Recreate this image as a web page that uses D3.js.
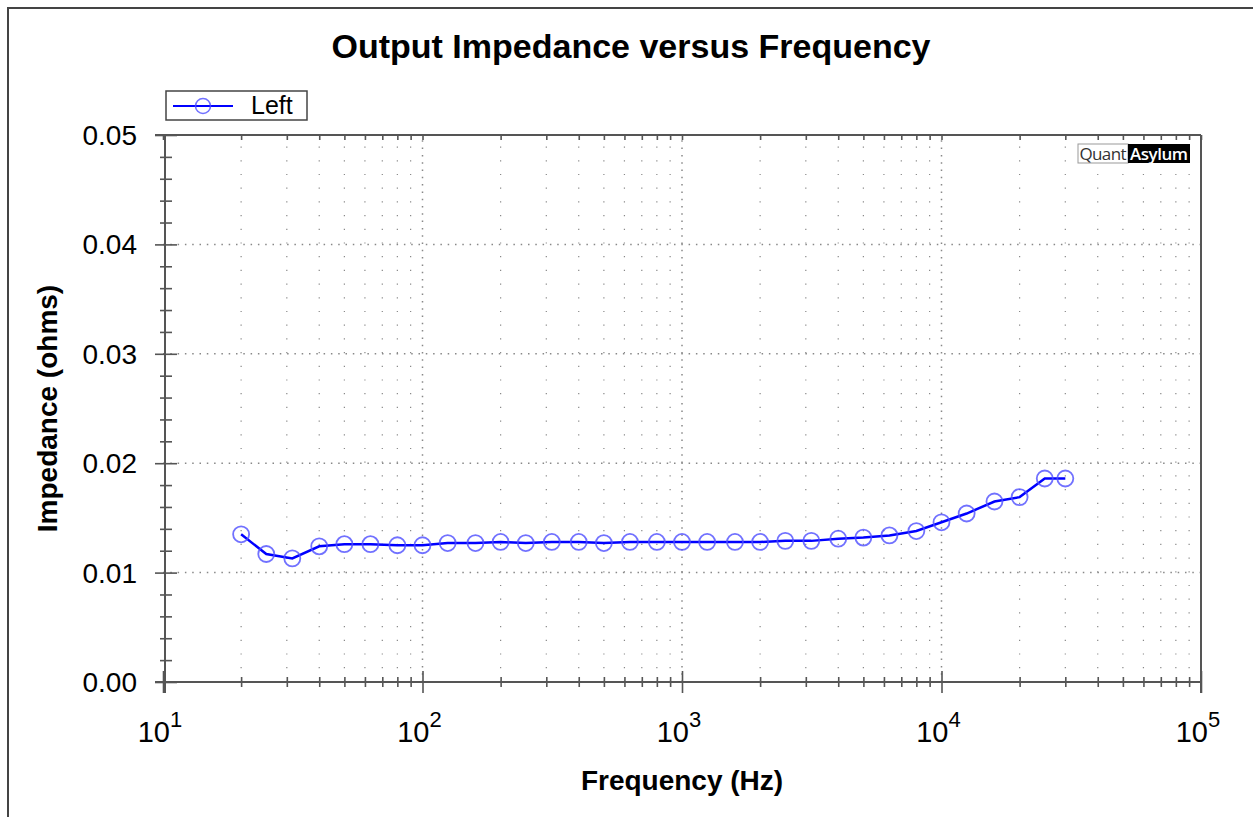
<!DOCTYPE html>
<html>
<head>
<meta charset="utf-8">
<script src="https://cdn.jsdelivr.net/npm/d3@7"></script>
<style>
  body { margin: 0; background: #fff; }
  svg { display: block; font-family: "Liberation Sans", Arial, sans-serif; }
</style>
</head>
<body>
<svg id="chart" width="1253" height="817"></svg>
<script>
// data
const freqs = [20, 25, 31.5, 40, 50, 63, 80, 100, 125, 160, 200, 250, 315, 400, 500, 630, 800,
  1000, 1250, 1600, 2000, 2500, 3150, 4000, 5000, 6300, 8000, 10000, 12500, 16000, 20000, 25000, 30000];
const leftOhms = [0.0135, 0.0117, 0.0113, 0.0124, 0.0126, 0.0126, 0.0125, 0.0125, 0.0127, 0.0127, 0.0128, 0.0127, 0.0128, 0.0128, 0.0127, 0.0128, 0.0128,
  0.0128, 0.0128, 0.0128, 0.0128, 0.0129, 0.0129, 0.0131, 0.0132, 0.0134, 0.0138, 0.0146, 0.0154, 0.0165, 0.0169, 0.0186, 0.0186];
const yTicks = [0, 0.01, 0.02, 0.03, 0.04, 0.05];
const xDecades = [10, 100, 1000, 10000, 100000];
const seriesName = "Left";

const svg = d3.select("#chart");
const margin = { left: 163, right: 1201, top: 135, bottom: 682 };

const x = d3.scaleLog().domain([10, 100000]).range([margin.left, margin.right]);
const y = d3.scaleLinear().domain([0, 0.05]).range([margin.bottom, margin.top]);

// minor ticks
const xMinor = [];
xDecades.slice(0, -1).forEach(d => { for (let k = 2; k <= 9; k++) xMinor.push(d * k); });
const yMinor = d3.range(0, 51).map(i => i / 1000).filter((v, i) => i % 10 !== 0 && i % 2 === 0);

// outer frame
svg.append("path").attr("d", "M8,817 L8,8 L1253,8")
  .attr("fill", "none").attr("stroke", "#444").attr("stroke-width", 2);

// title
svg.append("text").attr("x", 631).attr("y", 58).attr("text-anchor", "middle")
  .style("font-size", "34px").style("font-weight", "bold").text("Output Impedance versus Frequency");

// grid
const grid = svg.append("g").attr("stroke", "#888").attr("fill", "none");
grid.selectAll(".vminor").data(xMinor).join("line").attr("class", "vminor")
  .attr("x1", d => x(d)).attr("x2", d => x(d)).attr("y1", margin.bottom).attr("y2", margin.top)
  .attr("stroke-width", 1.2).attr("stroke-dasharray", "1.2,12.5");
grid.selectAll(".vmajor").data(xDecades.slice(1, -1)).join("line").attr("class", "vmajor")
  .attr("x1", d => x(d)).attr("x2", d => x(d)).attr("y1", margin.bottom).attr("y2", margin.top)
  .attr("stroke-width", 1.5).attr("stroke-dasharray", "1.5,5.8");
grid.selectAll(".hmajor").data(yTicks.slice(1, -1)).join("line").attr("class", "hmajor")
  .attr("x1", margin.left).attr("x2", margin.right).attr("y1", d => y(d)).attr("y2", d => y(d))
  .attr("stroke-width", 1.5).attr("stroke-dasharray", "1.5,5.8");

// axes
const axisColor = "#555";
const bottomAxis = svg.append("g").attr("transform", `translate(0,${margin.bottom})`)
  .call(d3.axisBottom(x).tickValues(xDecades.concat(xMinor)).tickSize(11).tickFormat(""));
bottomAxis.selectAll(".tick line").attr("y1", d => xDecades.includes(d) ? -11 : -5)
  .attr("y2", d => xDecades.includes(d) ? 11 : 5);

const topAxis = svg.append("g").attr("transform", `translate(0,${margin.top})`)
  .call(d3.axisBottom(x).tickValues(xDecades.concat(xMinor)).tickSize(5).tickFormat(""));

const leftAxis = svg.append("g").attr("transform", `translate(${margin.left + 2},0)`)
  .call(d3.axisLeft(y).tickValues(yTicks.concat(yMinor)).tickSize(10).tickFormat(""));
leftAxis.selectAll(".tick line").attr("x1", d => yTicks.includes(d) ? 12 : 7)
  .attr("x2", d => yTicks.includes(d) ? -10 : -5);

[bottomAxis, topAxis, leftAxis].forEach(a => {
  a.select(".domain").remove();
  a.selectAll(".tick line").attr("stroke", axisColor).attr("stroke-width", 1.6);
});

// frame of plot
svg.append("line").attr("x1", 155).attr("x2", margin.right).attr("y1", margin.top).attr("y2", margin.top)
  .attr("stroke", axisColor).attr("stroke-width", 2);
svg.append("line").attr("x1", 155).attr("x2", margin.right).attr("y1", margin.bottom).attr("y2", margin.bottom)
  .attr("stroke", axisColor).attr("stroke-width", 2);
svg.append("line").attr("x1", margin.left + 2).attr("x2", margin.left + 2).attr("y1", margin.top).attr("y2", margin.bottom + 11)
  .attr("stroke", axisColor).attr("stroke-width", 2);
svg.append("line").attr("x1", margin.right).attr("x2", margin.right).attr("y1", margin.top).attr("y2", margin.bottom + 11)
  .attr("stroke", axisColor).attr("stroke-width", 2);

// tick labels
svg.selectAll(".ylab").data(yTicks).join("text").attr("class", "ylab")
  .attr("x", 137).attr("y", d => y(d) + 10).attr("text-anchor", "end")
  .style("font-size", "28px").text(d => d.toFixed(2));

const xl = svg.selectAll(".xlab").data(xDecades).join("text").attr("class", "xlab")
  .attr("x", d => x(d) - 3).attr("y", 742).attr("text-anchor", "middle").style("font-size", "29px");
xl.append("tspan").text("10");
xl.append("tspan").attr("dy", -15).style("font-size", "22px").text(d => Math.round(Math.log10(d)));

// axis titles
svg.append("text").attr("x", 682).attr("y", 790).attr("text-anchor", "middle")
  .style("font-size", "28px").style("font-weight", "bold").text("Frequency (Hz)");
svg.append("text").attr("transform", `translate(57,${(margin.top + margin.bottom) / 2}) rotate(-90)`)
  .attr("text-anchor", "middle").style("font-size", "28px").style("font-weight", "bold").text("Impedance (ohms)");

// series
const line = d3.line().x((d, i) => x(freqs[i])).y(d => y(d));
svg.append("path").datum(leftOhms).attr("d", line)
  .attr("fill", "none").attr("stroke", "#0000ff").attr("stroke-width", 2.5);
svg.selectAll(".pt").data(leftOhms).join("circle").attr("class", "pt")
  .attr("cx", (d, i) => x(freqs[i])).attr("cy", d => y(d)).attr("r", 8)
  .attr("fill", "none").attr("stroke", "#4d4dff").attr("stroke-opacity", 0.8).attr("stroke-width", 1.8);

// legend
const lg = svg.append("g");
lg.append("rect").attr("x", 166).attr("y", 91).attr("width", 141).attr("height", 29)
  .attr("fill", "#fff").attr("stroke", "#444").attr("stroke-width", 1.5);
lg.append("line").attr("x1", 173).attr("x2", 233).attr("y1", 106).attr("y2", 106)
  .attr("stroke", "#0000ff").attr("stroke-width", 2);
lg.append("circle").attr("cx", 203).attr("cy", 106).attr("r", 7.5)
  .attr("fill", "none").attr("stroke", "#4d4dff").attr("stroke-opacity", 0.8).attr("stroke-width", 1.6);
lg.append("text").attr("x", 251).attr("y", 114).style("font-size", "25px").text(seriesName);

// QuantAsylum badge
const qa = svg.append("g").style("font-family", "'Open Sans', sans-serif").style("font-size", "17px");
qa.append("rect").attr("x", 1078).attr("y", 144).attr("width", 50).attr("height", 19)
  .attr("fill", "#fff").attr("stroke", "#999").attr("stroke-width", 1);
qa.append("text").attr("x", 1103).attr("y", 160).attr("text-anchor", "middle").attr("fill", "#333")
  .attr("textLength", 47).text("Quant");
qa.append("rect").attr("x", 1128).attr("y", 144).attr("width", 62).attr("height", 19).attr("fill", "#000");
qa.append("text").attr("x", 1159).attr("y", 160).attr("text-anchor", "middle").attr("fill", "#fff")
  .attr("textLength", 58).style("font-weight", "600").text("Asylum");
</script>
</body>
</html>
